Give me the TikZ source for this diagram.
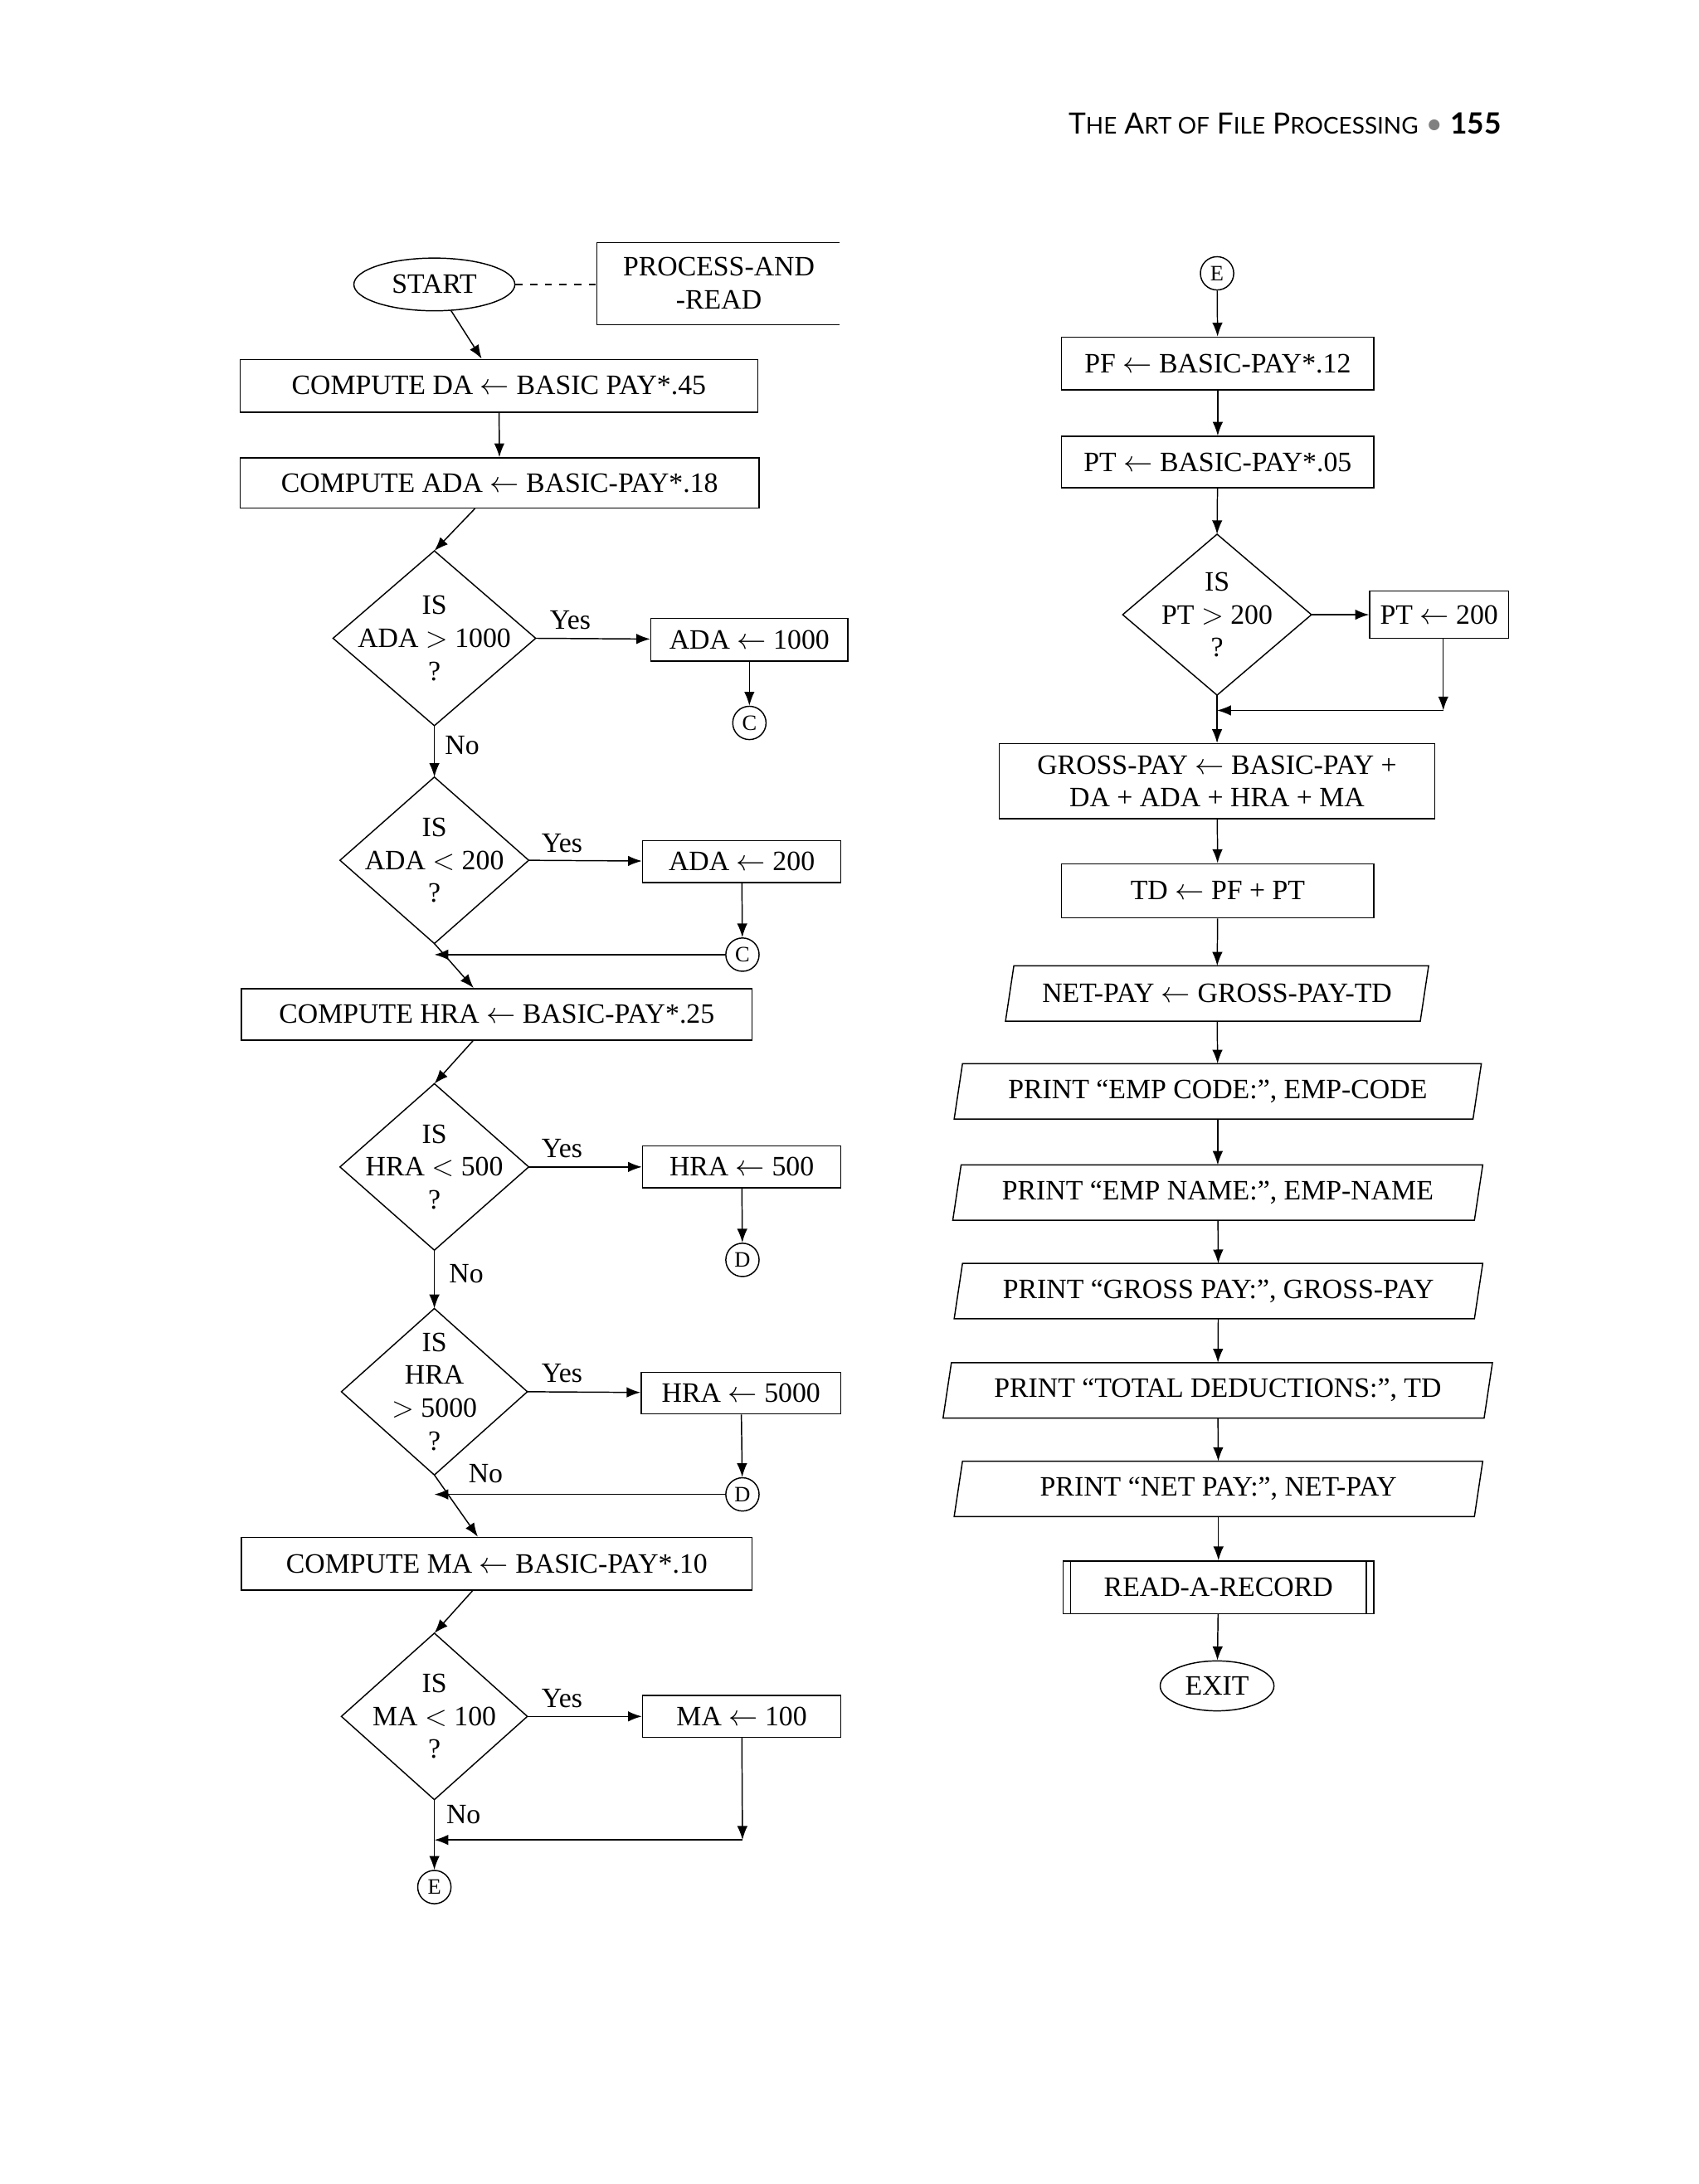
\documentclass[tikz,border=0pt]{standalone}
\usepackage{fontspec}
\setmainfont{Liberation Serif}
\newfontfamily\hdfont{Lato}
\usetikzlibrary{calc,arrows.meta,shapes.geometric}
\newcommand\pxl[1]{#1*0.02cm}
\newcommand\dmd[6]{%
 \node[txt,align=center] (#1) at (#2,#3) {#6};
 \draw (#2,#3-#5) -- (#2+#4,#3) -- (#2,#3+#5) -- (#2-#4,#3) -- cycle;
 \coordinate (#1n) at (#2,#3-#5); \coordinate (#1s) at (#2,#3+#5);
 \coordinate (#1e) at (#2+#4,#3); }
\begin{document}
\begin{tikzpicture}[x=0.02cm,y=-0.02cm,
 every node/.style={font=\fontsize{11.5}{13.5}\selectfont},
 txt/.style={inner sep=0pt},
 box/.style={draw,inner sep=0pt,minimum height=\pxl{38}},
 conn/.style={draw,circle,inner sep=0pt,minimum size=\pxl{24},font=\fontsize{9}{10}\selectfont},
 arr/.style={-{Latex[length=2mm,width=1.5mm]}},
 pg/.style={inner sep=0pt,minimum height=\pxl{39}},
 line width=0.5pt]
\useasboundingbox (0,0) rectangle (1224,1574);
% header
\node[anchor=east,font=\hdfont\fontsize{12}{14}\selectfont] (hd) at (1088,89) {T{\fontsize{9.5}{12}\selectfont HE} A{\fontsize{9.5}{12}\selectfont RT OF} F{\fontsize{9.5}{12}\selectfont ILE} P{\fontsize{9.5}{12}\selectfont ROCESSING} \textcolor{gray}{\textbullet}\ \textbf{155}};
% left column
\node[draw,ellipse,minimum width=\pxl{116},minimum height=\pxl{38},inner sep=0pt] (start) at (313,205) {START};
\node[txt,align=center] (pr) at (518,204) {PROCESS-AND\\-READ};
\draw (605,175) -- (430,175) -- (430,234) -- (605,234);
\coordinate (prw) at (430,205);
\draw[dashed] (start.east) -- (prw);
\node[box,minimum width=\pxl{373}] (da) at (359.5,278) {COMPUTE DA $\leftarrow$ BASIC PAY*.45};
\node[box,minimum width=\pxl{374},minimum height=\pxl{36}] (ada) at (360,348) {COMPUTE ADA $\leftarrow$ BASIC-PAY*.18};
\dmd{d1}{313}{460}{73}{63}{IS\\ADA $>$ 1000\\?}
\node[box,minimum width=\pxl{142},minimum height=\pxl{31}] (a1) at (540,461) {ADA $\leftarrow$ 1000};
\node[conn] (c1) at (540,521) {C};
\dmd{d2}{313}{620}{68}{60}{IS\\ADA $<$ 200\\?}
\node[box,minimum width=\pxl{143},minimum height=\pxl{30}] (a2) at (534.5,621) {ADA $\leftarrow$ 200};
\node[conn] (c2) at (535,688) {C};
\coordinate (j1) at (313,688);
\node[box,minimum width=\pxl{368},minimum height=\pxl{37}] (hra) at (358,731) {COMPUTE HRA $\leftarrow$ BASIC-PAY*.25};
\dmd{d3}{313}{841}{68}{60}{IS\\HRA $<$ 500\\?}
\node[box,minimum width=\pxl{143},minimum height=\pxl{30}] (h1) at (534.5,841) {HRA $\leftarrow$ 500};
\node[conn] (dd1) at (535,908) {D};
\dmd{d4}{313}{1003}{67}{60}{IS\\HRA\\$>$ 5000\\?}
\node[box,minimum width=\pxl{144},minimum height=\pxl{30}] (h2) at (534,1004) {HRA $\leftarrow$ 5000};
\node[conn] (dd2) at (535,1077) {D};
\coordinate (j2) at (313,1077);
\node[box,minimum width=\pxl{368}] (ma) at (358,1127) {COMPUTE MA $\leftarrow$ BASIC-PAY*.10};
\dmd{d5}{313}{1237}{67}{60}{IS\\MA $<$ 100\\?}
\node[box,minimum width=\pxl{143},minimum height=\pxl{30}] (m1) at (534.5,1237) {MA $\leftarrow$ 100};
\coordinate (j3) at (535,1326);
\coordinate (j4) at (313,1326);
\node[conn] (e1) at (313,1360) {E};
% labels
\node[txt] (y1) at (411,447) {Yes};
\node[txt] (n1) at (333,537) {No};
\node[txt] (y2) at (405,608) {Yes};
\node[txt] (y3) at (405,828) {Yes};
\node[txt] (n3) at (336,918) {No};
\node[txt] (y4) at (405,990) {Yes};
\node[txt] (n4) at (350,1062) {No};
\node[txt] (y5) at (405,1224) {Yes};
\node[txt] (n5) at (334,1308) {No};
% left arrows
\draw[arr] (start) -- (da);
\draw[arr] (da) -- (ada);
\draw[arr] (ada) -- (d1n);
\draw[arr] (d1e) -- (a1);
\draw[arr] (a1) -- (c1);
\draw[arr] (d1s) -- (d2n);
\draw[arr] (d2e) -- (a2);
\draw[arr] (a2) -- (c2);
\draw[arr] (c2) -- (j1);
\draw[arr] (d2s) -- (hra);
\draw[arr] (hra) -- (d3n);
\draw[arr] (d3e) -- (h1);
\draw[arr] (h1) -- (dd1);
\draw[arr] (d3s) -- (d4n);
\draw[arr] (d4e) -- (h2);
\draw[arr] (h2) -- (dd2);
\draw[arr] (dd2) -- (j2);
\draw[arr] (d4s) -- (ma);
\draw[arr] (ma) -- (d5n);
\draw[arr] (d5e) -- (m1);
\draw[arr] (m1) -- (j3);
\draw[arr] (j3) -- (j4);
\draw[arr] (d5s) -- (e1);
% right column
\node[conn] (e2) at (877,197) {E};
\node[box,minimum width=\pxl{225}] (pf) at (877.5,262) {PF $\leftarrow$ BASIC-PAY*.12};
\node[box,minimum width=\pxl{225},minimum height=\pxl{37}] (pt) at (877.5,333) {PT $\leftarrow$ BASIC-PAY*.05};
\dmd{d6}{877}{443}{68}{58}{IS\\PT $>$ 200\\?}
\node[box,minimum width=\pxl{100},minimum height=\pxl{34}] (p1) at (1037,443) {PT $\leftarrow$ 200};
\coordinate (j5) at (1040,512);
\coordinate (j6) at (877,512);
\node[box,minimum width=\pxl{314},minimum height=\pxl{54},align=center] (gp) at (877,563) {GROSS-PAY $\leftarrow$ BASIC-PAY +\\DA + ADA + HRA + MA};
\node[box,minimum width=\pxl{225},minimum height=\pxl{39}] (td) at (877.5,642) {TD $\leftarrow$ PF + PT};
\node[pg,minimum width=\pxl{298}] (np) at (877,716) {NET-PAY $\leftarrow$ GROSS-PAY-TD};
\node[pg,minimum width=\pxl{373}] (p2) at (877.5,786.5) {PRINT ``EMP CODE:'', EMP-CODE};
\node[pg,minimum width=\pxl{375}] (p3) at (877.5,859.5) {PRINT ``EMP NAME:'', EMP-NAME};
\node[pg,minimum width=\pxl{374}] (p4) at (878,930.5) {PRINT ``GROSS PAY:'', GROSS-PAY};
\node[pg,minimum width=\pxl{389}] (p5) at (877.5,1002) {PRINT ``TOTAL DEDUCTIONS:'', TD};
\node[pg,minimum width=\pxl{374}] (p6) at (878,1073) {PRINT ``NET PAY:'', NET-PAY};
\foreach \n in {np,p2,p3,p4,p5,p6}{
 \draw ($(\n.south west)+(-3,0)$) -- ($(\n.north west)+(3,0)$) -- ($(\n.north east)+(3,0)$) -- ($(\n.south east)+(-3,0)$) -- cycle;}
\node[box,minimum width=\pxl{224}] (rr) at (878,1144) {READ-A-RECORD};
\draw ($(rr.north west)+(6,0)$) -- ($(rr.south west)+(6,0)$);
\draw ($(rr.north east)+(-6,0)$) -- ($(rr.south east)+(-6,0)$);
\node[draw,ellipse,minimum width=\pxl{82},minimum height=\pxl{36},inner sep=0pt] (ex) at (877,1215) {EXIT};
\draw[arr] (e2) -- (pf);
\draw[arr] (pf) -- (pt);
\draw[arr] (pt) -- (d6n);
\draw[arr] (d6e) -- (p1);
\draw[arr] (p1.south -| j5) -- (j5);
\draw[arr] (j5) -- (j6);
\draw[arr] (d6s) -- (gp);
\draw[arr] (gp) -- (td);
\draw[arr] (td) -- (np);
\draw[arr] (np) -- (p2);
\draw[arr] (p2) -- (p3);
\draw[arr] (p3) -- (p4);
\draw[arr] (p4) -- (p5);
\draw[arr] (p5) -- (p6);
\draw[arr] (p6) -- (rr);
\draw[arr] (rr) -- (ex);
\end{tikzpicture}
\end{document}
